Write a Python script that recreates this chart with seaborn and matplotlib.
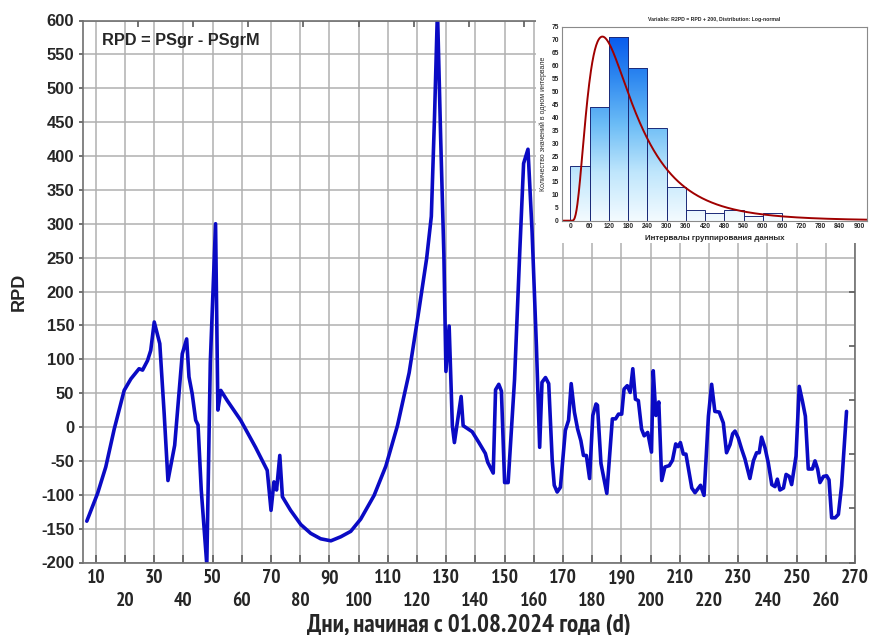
import numpy as np
import pandas as pd
import matplotlib
matplotlib.use("Agg")
import matplotlib.pyplot as plt
import seaborn as sns
from matplotlib.colors import LinearSegmentedColormap
from matplotlib.patches import Rectangle

# Daily RPD series (day number counted from 01.08.2024)
day = [6.9, 10.6, 13.4, 16.3, 19.7, 22.0, 24.8, 26.0, 27.7, 28.8, 30.0, 31.9,
       33.4, 34.7, 37.0, 39.6, 41.1, 41.9, 43.0, 44.2, 45.0, 46.1, 48.0, 49.2,
       51.0, 51.8, 52.8, 55.0, 59.6, 64.7, 68.7, 70.0, 71.0, 71.9, 73.0, 73.9,
       76.7, 80.2, 83.6, 87.0, 90.5, 93.9, 97.3, 100.7, 105.3, 109.3, 113.3,
       117.3, 120.7, 123.3, 124.9, 126.0, 127.0, 128.1, 129.2, 129.9, 131.0,
       132.1, 132.8, 135.1, 135.8, 138.9, 141.2, 143.4, 144.2, 146.1, 146.9,
       148.0, 148.9, 150.0, 151.2, 153.4, 155.2, 156.5, 158.0, 159.4, 160.9,
       162.0, 162.8, 164.0, 165.1, 166.3, 167.0, 168.0, 169.1, 170.8, 171.9,
       172.8, 173.9, 175.0, 176.1, 177.0, 178.0, 179.1, 180.2, 181.3, 181.8,
       183.0, 185.0, 186.9, 188.0, 189.0, 190.1, 190.9, 192.0, 193.0, 193.9,
       194.8, 195.8, 196.9, 197.8, 199.0, 200.3, 200.9, 201.8, 202.8, 203.8,
       204.9, 206.4, 207.5, 208.6, 209.4, 210.2, 211.2, 212.1, 214.1, 215.2,
       217.1, 218.3, 219.8, 220.9, 222.0, 223.5, 224.9, 226.0, 227.2, 228.1,
       228.9, 230.0, 231.2, 232.3, 234.0, 235.2, 236.3, 237.2, 238.0, 239.2,
       240.3, 241.5, 242.6, 243.4, 244.3, 245.5, 246.4, 247.5, 248.3, 249.8,
       250.9, 252.0, 253.0, 254.0, 255.4, 256.3, 257.2, 258.0, 259.2, 260.3,
       261.1, 262.0, 263.2, 264.3, 265.4, 267.1]
rpd = [-139, -98, -59, -3, 54, 71, 86, 84, 98, 113, 155, 123,
       20, -79, -27, 108, 130, 74, 49, 10, 3, -93, -203, 95,
       300, 25, 54, 39, 10, -30, -64, -123, -81, -93, -42, -103,
       -123, -144, -157, -165, -168, -162, -154, -136, -101, -58, 2,
       80, 174, 249, 311, 459, 615, 426, 254, 82, 149,
       2, -23, 45, 2, -7, -23, -39, -52, -68, 55,
       63, 53, -82, -82, 70, 260, 389, 410, 289, 118,
       -30, 66, 73, 64, -49, -86, -96, -89, -5, 10,
       64, 22, -3, -20, -42, -42, -76, 17, 34, 32,
       -54, -98, 12, 12, 19, 19, 56, 61, 51, 86,
       41, 39, -3, -13, -8, -37, 83, 17, 37, -79,
       -59, -57, -49, -25, -29, -23, -40, -40, -90, -97,
       -86, -101, 16, 63, 23, 22, 6, -38, -26, -10,
       -6, -16, -33, -47, -76, -50, -38, -38, -15, -31,
       -53, -85, -88, -77, -93, -90, -70, -73, -85, -43,
       60, 38, 16, -62, -62, -50, -62, -82, -73, -72,
       -78, -134, -134, -129, -87, 23]

# Histogram of R2PD = RPD + 200 (counts per 60-unit interval)
bin_edges = [0, 60, 120, 180, 240, 300, 360, 420, 480, 540, 600, 660]
bin_counts = [21, 44, 71, 59, 36, 13, 4, 3, 4, 2, 3]
hist_ticks = list(range(0, 901, 60))

# Fitted log-normal parameters
lognorm_mu = 5.08
lognorm_sigma = 0.69

sns.set_theme(style="white")
plt.rcParams['font.family'] = ['Liberation Sans', 'DejaVu Sans']
narrow = ['PT Sans Narrow', 'Liberation Sans', 'DejaVu Sans']

W, H = 870, 635
fig = plt.figure(figsize=(W / 100, H / 100), dpi=100)
fig.patch.set_facecolor('white')


def fx(px):
    return px / W


def fy(py):
    return 1 - py / H


# ---- main time-series axes ----
ax = fig.add_axes([fx(82.7), fy(562.5), fx(855 - 82.7), (562.5 - 20.5) / H])
df = pd.DataFrame({'day': day, 'rpd': rpd})
sns.lineplot(data=df, x='day', y='rpd', ax=ax, estimator=None, sort=False,
             color='#0a0ac4', linewidth=2.6)

ax.set_xlim(5.5, 270)
ax.set_ylim(-200, 600)
xt = list(range(10, 271, 10))
ax.set_xticks(xt)
ax.set_xticklabels([str(v) if (v // 10) % 2 == 1 else '\n' + str(v) for v in xt],
                   family=narrow, fontweight='bold', fontsize=14, linespacing=1.35)
yt = list(range(-200, 601, 50))
ax.set_yticks(yt)
ax.set_yticklabels([str(v) for v in yt], fontweight='bold', fontsize=12)
ax.tick_params(axis='x', direction='in', length=6, pad=5, color='#606060')
ax.tick_params(axis='y', direction='out', length=3, pad=3, color='#606060')
ax.grid(True, color='#b0b0b0', linewidth=1.1)
for s in ax.spines.values():
    s.set_color('#707070')
    s.set_linewidth(1.2)
ax.set_xlabel('Дни, начиная с 01.08.2024 года (d)', family=narrow,
              fontweight='bold', fontsize=18, labelpad=2)
ax.set_ylabel('RPD', fontweight='bold', fontsize=13, labelpad=10)

# secondary tick marks along the right and top frame
ax_r = ax.twinx()
ax_r.set_ylim(ax.get_ylim())
ax_r.set_yticks(np.arange(-200, 601, 80))
ax_r.tick_params(axis='y', direction='in', length=4, labelright=False, color='#606060')
ax_t = ax.twiny()
ax_t.set_xlim(ax.get_xlim())
ax_t.set_xticks(np.arange(24.4, 270, 18.9))
ax_t.tick_params(axis='x', direction='in', length=4, labeltop=False, color='#606060')
for a in (ax_r, ax_t):
    for s in a.spines.values():
        s.set_visible(False)

fig.text(fx(102), fy(41), 'RPD = PSgr - PSgrM', ha='left', va='center',
         fontweight='bold', fontsize=11.8)

# ---- inset: distribution of R2PD ----
fig.add_artist(Rectangle((fx(536), fy(243)), 1 - fx(536), 243 / H,
                         transform=fig.transFigure, facecolor='white',
                         edgecolor='none', zorder=5))

axi = fig.add_axes([fx(561.7), fy(220.7), fx(867 - 561.7), (220.7 - 26.7) / H], zorder=6)
axi.set_facecolor('white')
edges = np.array(bin_edges, dtype=float)
centers = (edges[:-1] + edges[1:]) / 2
sns.histplot(x=centers, weights=bin_counts, bins=bin_edges, ax=axi, stat='count',
             color='#3a8ef0', edgecolor='#1c2a78', linewidth=0.7)

cmap = LinearSegmentedColormap.from_list(
    'barfill', ['#f4fbff', '#bfe6fc', '#6bbcf6', '#2c86f0', '#0050ee'])
grad = np.linspace(0, 1, 256).reshape(-1, 1)
for p in list(axi.patches):
    p.set_facecolor('none')
    im = axi.imshow(grad, extent=[-30, 930, 0, 75], origin='lower', aspect='auto',
                    cmap=cmap, zorder=p.get_zorder() - 0.1)
    im.set_clip_path(p)

xs = np.linspace(-27, 925, 700)
xpos = np.clip(xs, 1e-6, None)
pdf = np.where(xs > 0,
               np.exp(-(np.log(xpos) - lognorm_mu) ** 2 / (2 * lognorm_sigma ** 2))
               / (xpos * lognorm_sigma * np.sqrt(2 * np.pi)), 0.0)
fit = pdf * sum(bin_counts) * (bin_edges[1] - bin_edges[0])
sns.lineplot(x=xs, y=fit, ax=axi, color='#a00000', linewidth=1.4)

axi.set_xlim(-27, 925)
axi.set_ylim(0, 75)
axi.set_xticks(hist_ticks)
axi.set_xticklabels([str(v) for v in hist_ticks], fontsize=4.8, fontweight='bold')
axi.set_yticks(range(0, 76, 5))
axi.set_yticklabels([str(v) for v in range(0, 76, 5)], fontsize=4.8, fontweight='bold')
axi.set_xticks(np.arange(60, 901, 120), minor=True)
axi.set_yticks(range(0, 76, 10), minor=True)
axi.tick_params(which='both', length=0, pad=2)
axi.set_axisbelow(True)
axi.grid(False, which='major')
axi.grid(True, which='minor', color='#b8b8b8', linewidth=0.7)
for s in axi.spines.values():
    s.set_color('#8a8a8a')
    s.set_linewidth(0.8)
axi.set_xlabel('Интервалы группирования данных', fontsize=5.8, fontweight='bold', labelpad=3)
axi.set_ylabel('Количество значений в одном интервале', fontsize=5.0, labelpad=3)
axi.set_title('Variable: R2PD = RPD + 200, Distribution: Log-normal',
              fontsize=3.7, fontweight='bold', pad=4)

fig.savefig('out.png', dpi=100, facecolor='white')
